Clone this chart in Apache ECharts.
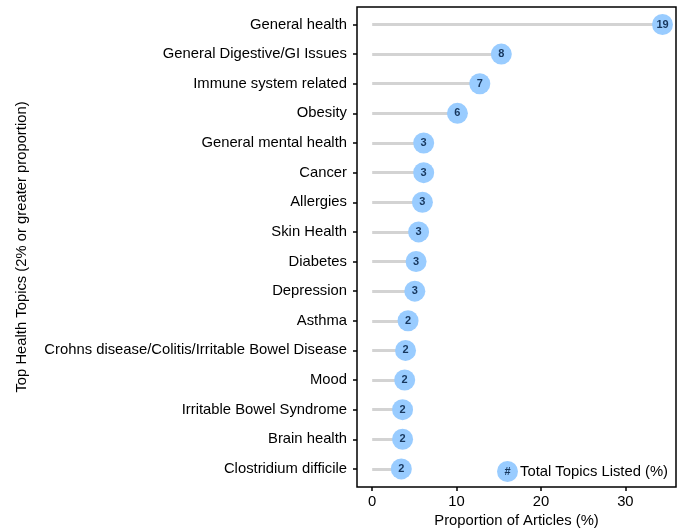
<!DOCTYPE html>
<html><head><meta charset="utf-8">
<script src="https://cdn.jsdelivr.net/npm/echarts@6/dist/echarts.min.js"></script>
<style>html,body{margin:0;padding:0;background:#fff}#c{width:684px;height:530px}</style>
</head><body><div id="c"></div>
<script>
const categories = ["General health","General Digestive/GI Issues","Immune system related","Obesity","General mental health","Cancer","Allergies","Skin Health","Diabetes","Depression","Asthma","Crohns disease/Colitis/Irritable Bowel Disease","Mood","Irritable Bowel Syndrome","Brain health","Clostridium difficile"];
const proportions = [34.4,15.3,12.75,10.1,6.1,6.1,5.95,5.5,5.2,5.05,4.25,3.95,3.85,3.6,3.6,3.45];
const counts = [19,8,7,6,3,3,3,3,3,3,2,2,2,2,2,2];
const xTicks = [0,10,20,30];
const legendLabel = "Total Topics Listed (%)";

const FONT = "Liberation Sans, Arial, sans-serif";
const FS = 14.8;
const idx = categories.map((_, i) => i);
const chart = echarts.init(document.getElementById('c'));
chart.setOption({
  animation: false,
  textStyle: {fontFamily: FONT},
  grid: {left: 357, right: 8, top: 7, bottom: 43, show: true, borderColor: '#000', borderWidth: 1.5,
    containLabel: false, outerBoundsMode: 'none'},
  xAxis: {
    type: 'value', min: -1.8, max: 36,
    name: 'Proportion of Articles (%)', nameLocation: 'middle', nameGap: 26,
    nameTextStyle: {fontSize: FS, color: '#000', fontFamily: FONT},
    axisLine: {show: false, onZero: false},
    axisTick: {show: true, length: 4, lineStyle: {color: '#000', width: 1.5}, customValues: xTicks},
    axisLabel: {color: '#000', fontSize: FS, margin: 7, fontFamily: FONT, customValues: xTicks},
    splitLine: {show: false}
  },
  yAxis: {
    type: 'value', inverse: true, min: -0.59, max: 15.61,
    name: 'Top Health Topics (2% or greater proportion)', nameLocation: 'middle', nameGap: 328,
    nameTextStyle: {fontSize: FS, color: '#000', fontFamily: FONT},
    axisLine: {show: false, onZero: false},
    axisTick: {show: true, length: 4, lineStyle: {color: '#000', width: 1.5}, customValues: idx},
    axisLabel: {color: '#000', fontSize: FS, margin: 10, fontFamily: FONT, customValues: idx,
      padding: [2, 0, 0, 0],
      formatter: v => categories[Math.round(v)]},
    splitLine: {show: false}
  },
  legend: {
    left: 497, top: 461, padding: 0, itemWidth: 21, itemHeight: 21, itemGap: 4,
    data: [{name: legendLabel, icon: 'circle'}],
    textStyle: {fontSize: FS, color: '#000', fontFamily: FONT, padding: [0,0,0,-3]}
  },
  series: [
    {
      type: 'lines', coordinateSystem: 'cartesian2d', silent: true,
      lineStyle: {color: '#d3d3d3', width: 3, opacity: 1},
      data: proportions.map((v, i) => ({coords: [[0, i], [v, i]]})),
      z: 1
    },
    {
      name: legendLabel, type: 'scatter', symbol: 'circle', symbolSize: 21,
      itemStyle: {color: '#99CCFF', opacity: 1},
      label: {show: true, position: 'inside', color: '#17375E', fontWeight: 'bold', fontSize: 11, fontFamily: FONT,
        formatter: p => counts[p.dataIndex]},
      data: proportions.map((v, i) => [v, i]),
      z: 3
    }
  ],
  graphic: [{
    type: 'text', x: 507.5, y: 472, z: 100,
    style: {text: '#', fill: '#17375E', font: 'bold 11px ' + FONT, align: 'center', verticalAlign: 'middle'}
  }]
});
</script></body></html>
